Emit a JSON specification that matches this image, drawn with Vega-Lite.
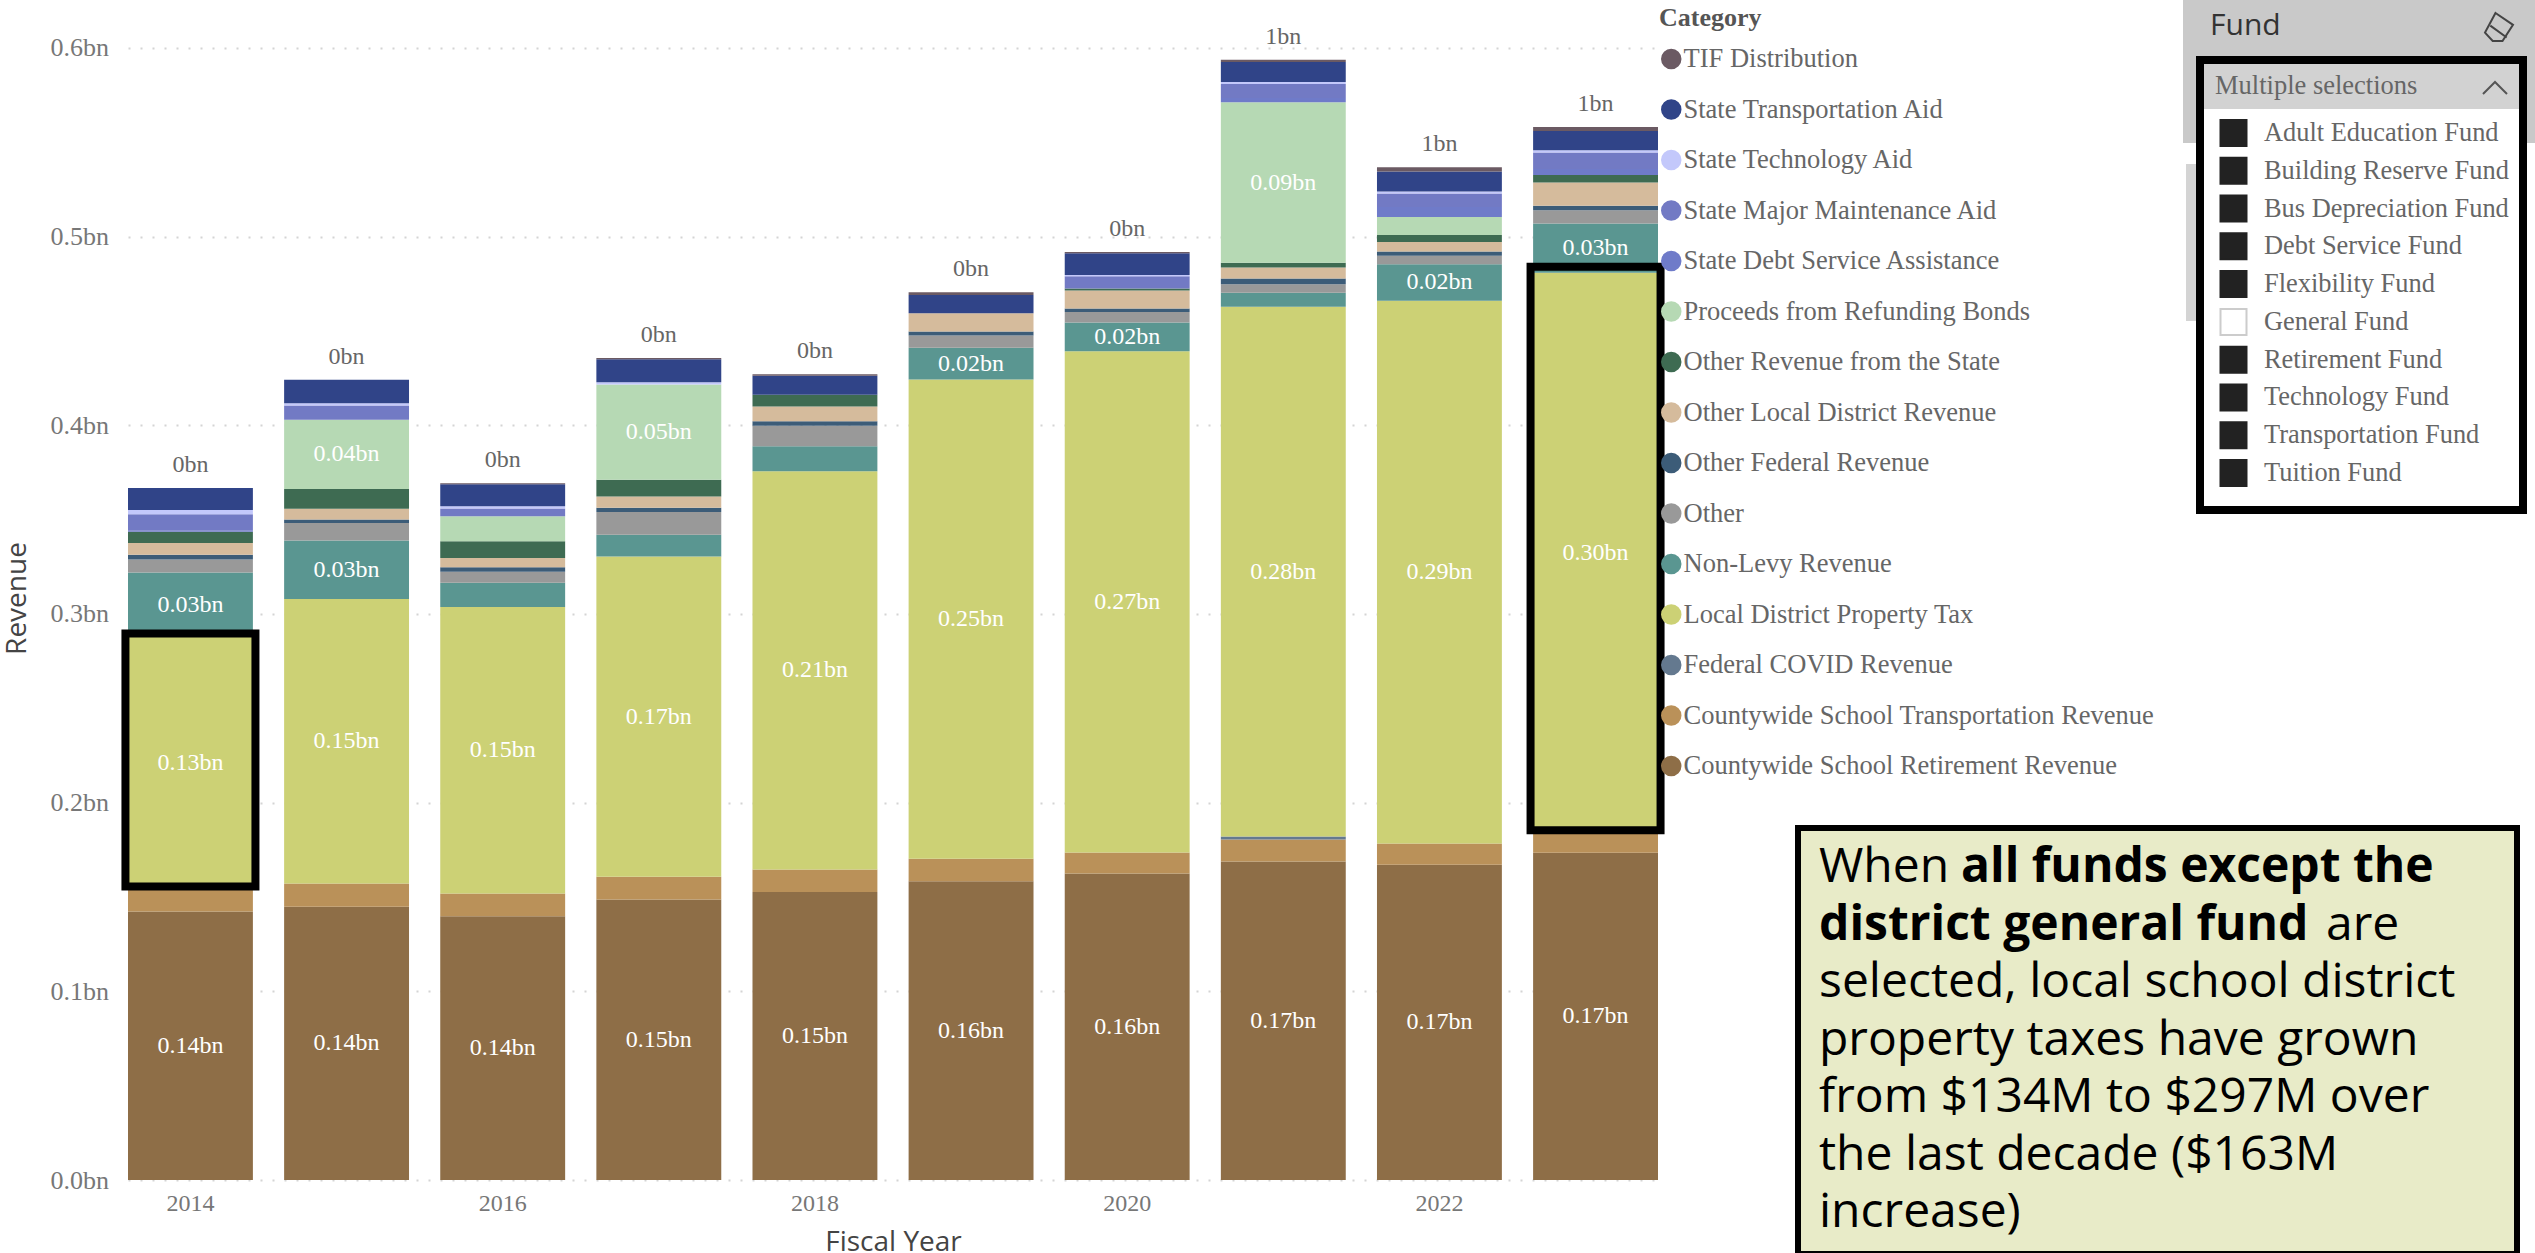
{
"$schema":"https://vega.github.io/schema/vega-lite/v6.json",
"background":"white",
"padding":{"left":3,"top":0,"right":0,"bottom":0},
"bounds":"flush",
"spacing":140,
"config":{"view":{"stroke":null},"font":"Liberation Serif"},
"hconcat":[
{
 "width":1530,"height":1180,
 "data":{"values":[
 {"Year":2014,"Category":"Countywide School Retirement Revenue","Revenue":0.1423,"labelled":true},
 {"Year":2014,"Category":"Countywide School Transportation Revenue","Revenue":0.0117},
 {"Year":2014,"Category":"Local District Property Tax","Revenue":0.134,"labelled":true},
 {"Year":2014,"Category":"Non-Levy Revenue","Revenue":0.034,"labelled":true},
 {"Year":2014,"Category":"Other","Revenue":0.0069},
 {"Year":2014,"Category":"Other Federal Revenue","Revenue":0.0025},
 {"Year":2014,"Category":"Other Local District Revenue","Revenue":0.0062},
 {"Year":2014,"Category":"Other Revenue from the State","Revenue":0.006},
 {"Year":2014,"Category":"State Debt Service Assistance","Revenue":0.0005},
 {"Year":2014,"Category":"State Major Maintenance Aid","Revenue":0.0087},
 {"Year":2014,"Category":"State Technology Aid","Revenue":0.0023},
 {"Year":2014,"Category":"State Transportation Aid","Revenue":0.0117},

 {"Year":2015,"Category":"Countywide School Retirement Revenue","Revenue":0.1448,"labelled":true},
 {"Year":2015,"Category":"Countywide School Transportation Revenue","Revenue":0.0124},
 {"Year":2015,"Category":"Local District Property Tax","Revenue":0.1507,"labelled":true},
 {"Year":2015,"Category":"Non-Levy Revenue","Revenue":0.0311,"labelled":true},
 {"Year":2015,"Category":"Other","Revenue":0.0092},
 {"Year":2015,"Category":"Other Federal Revenue","Revenue":0.0019},
 {"Year":2015,"Category":"Other Local District Revenue","Revenue":0.0057},
 {"Year":2015,"Category":"Other Revenue from the State","Revenue":0.0104},
 {"Year":2015,"Category":"Proceeds from Refunding Bonds","Revenue":0.0367,"labelled":true},
 {"Year":2015,"Category":"State Major Maintenance Aid","Revenue":0.0076},
 {"Year":2015,"Category":"State Technology Aid","Revenue":0.0012},
 {"Year":2015,"Category":"State Transportation Aid","Revenue":0.0124},

 {"Year":2016,"Category":"Countywide School Retirement Revenue","Revenue":0.1398,"labelled":true},
 {"Year":2016,"Category":"Countywide School Transportation Revenue","Revenue":0.0121},
 {"Year":2016,"Category":"Local District Property Tax","Revenue":0.1518,"labelled":true},
 {"Year":2016,"Category":"Non-Levy Revenue","Revenue":0.0129},
 {"Year":2016,"Category":"Other","Revenue":0.0058},
 {"Year":2016,"Category":"Other Federal Revenue","Revenue":0.0023},
 {"Year":2016,"Category":"Other Local District Revenue","Revenue":0.0049},
 {"Year":2016,"Category":"Other Revenue from the State","Revenue":0.009},
 {"Year":2016,"Category":"Proceeds from Refunding Bonds","Revenue":0.0132},
 {"Year":2016,"Category":"State Major Maintenance Aid","Revenue":0.0041},
 {"Year":2016,"Category":"State Technology Aid","Revenue":0.0012},
 {"Year":2016,"Category":"State Transportation Aid","Revenue":0.0117},
 {"Year":2016,"Category":"TIF Distribution","Revenue":0.0005},

 {"Year":2017,"Category":"Countywide School Retirement Revenue","Revenue":0.1487,"labelled":true},
 {"Year":2017,"Category":"Countywide School Transportation Revenue","Revenue":0.012},
 {"Year":2017,"Category":"Local District Property Tax","Revenue":0.1698,"labelled":true},
 {"Year":2017,"Category":"Non-Levy Revenue","Revenue":0.0115},
 {"Year":2017,"Category":"Other","Revenue":0.012},
 {"Year":2017,"Category":"Other Federal Revenue","Revenue":0.0023},
 {"Year":2017,"Category":"Other Local District Revenue","Revenue":0.006},
 {"Year":2017,"Category":"Other Revenue from the State","Revenue":0.0088},
 {"Year":2017,"Category":"Proceeds from Refunding Bonds","Revenue":0.0505,"labelled":true},
 {"Year":2017,"Category":"State Technology Aid","Revenue":0.0012},
 {"Year":2017,"Category":"State Transportation Aid","Revenue":0.0122},
 {"Year":2017,"Category":"TIF Distribution","Revenue":0.0007},

 {"Year":2018,"Category":"Countywide School Retirement Revenue","Revenue":0.1526,"labelled":true},
 {"Year":2018,"Category":"Countywide School Transportation Revenue","Revenue":0.012},
 {"Year":2018,"Category":"Local District Property Tax","Revenue":0.2111,"labelled":true},
 {"Year":2018,"Category":"Non-Levy Revenue","Revenue":0.0132},
 {"Year":2018,"Category":"Other","Revenue":0.0108},
 {"Year":2018,"Category":"Other Federal Revenue","Revenue":0.0025},
 {"Year":2018,"Category":"Other Local District Revenue","Revenue":0.0078},
 {"Year":2018,"Category":"Other Revenue from the State","Revenue":0.0062},
 {"Year":2018,"Category":"State Transportation Aid","Revenue":0.0101},
 {"Year":2018,"Category":"TIF Distribution","Revenue":0.0007},

 {"Year":2019,"Category":"Countywide School Retirement Revenue","Revenue":0.1584,"labelled":true},
 {"Year":2019,"Category":"Countywide School Transportation Revenue","Revenue":0.0119},
 {"Year":2019,"Category":"Local District Property Tax","Revenue":0.254,"labelled":true},
 {"Year":2019,"Category":"Non-Levy Revenue","Revenue":0.0168,"labelled":true},
 {"Year":2019,"Category":"Other","Revenue":0.0065},
 {"Year":2019,"Category":"Other Federal Revenue","Revenue":0.0021},
 {"Year":2019,"Category":"Other Local District Revenue","Revenue":0.0097},
 {"Year":2019,"Category":"State Transportation Aid","Revenue":0.0097},
 {"Year":2019,"Category":"TIF Distribution","Revenue":0.0014},

 {"Year":2020,"Category":"Countywide School Retirement Revenue","Revenue":0.1625,"labelled":true},
 {"Year":2020,"Category":"Countywide School Transportation Revenue","Revenue":0.0111},
 {"Year":2020,"Category":"Local District Property Tax","Revenue":0.2657,"labelled":true},
 {"Year":2020,"Category":"Non-Levy Revenue","Revenue":0.0152,"labelled":true},
 {"Year":2020,"Category":"Other","Revenue":0.0056},
 {"Year":2020,"Category":"Other Federal Revenue","Revenue":0.0018},
 {"Year":2020,"Category":"Other Local District Revenue","Revenue":0.0095},
 {"Year":2020,"Category":"Other Revenue from the State","Revenue":0.0011},
 {"Year":2020,"Category":"State Major Maintenance Aid","Revenue":0.0065},
 {"Year":2020,"Category":"State Technology Aid","Revenue":0.0007},
 {"Year":2020,"Category":"State Transportation Aid","Revenue":0.0115},
 {"Year":2020,"Category":"TIF Distribution","Revenue":0.0007},

 {"Year":2021,"Category":"Countywide School Retirement Revenue","Revenue":0.1688,"labelled":true},
 {"Year":2021,"Category":"Countywide School Transportation Revenue","Revenue":0.0117},
 {"Year":2021,"Category":"Federal COVID Revenue","Revenue":0.0015},
 {"Year":2021,"Category":"Local District Property Tax","Revenue":0.2808,"labelled":true},
 {"Year":2021,"Category":"Non-Levy Revenue","Revenue":0.0074},
 {"Year":2021,"Category":"Other","Revenue":0.0046},
 {"Year":2021,"Category":"Other Federal Revenue","Revenue":0.003},
 {"Year":2021,"Category":"Other Local District Revenue","Revenue":0.0058},
 {"Year":2021,"Category":"Other Revenue from the State","Revenue":0.0025},
 {"Year":2021,"Category":"Proceeds from Refunding Bonds","Revenue":0.0851,"labelled":true},
 {"Year":2021,"Category":"State Debt Service Assistance","Revenue":0.0023},
 {"Year":2021,"Category":"State Major Maintenance Aid","Revenue":0.0074},
 {"Year":2021,"Category":"State Technology Aid","Revenue":0.0011},
 {"Year":2021,"Category":"State Transportation Aid","Revenue":0.0106},
 {"Year":2021,"Category":"TIF Distribution","Revenue":0.0011},

 {"Year":2022,"Category":"Countywide School Retirement Revenue","Revenue":0.1671,"labelled":true},
 {"Year":2022,"Category":"Countywide School Transportation Revenue","Revenue":0.0113},
 {"Year":2022,"Category":"Local District Property Tax","Revenue":0.2876,"labelled":true},
 {"Year":2022,"Category":"Non-Levy Revenue","Revenue":0.0194,"labelled":true},
 {"Year":2022,"Category":"Other","Revenue":0.0044},
 {"Year":2022,"Category":"Other Federal Revenue","Revenue":0.0023},
 {"Year":2022,"Category":"Other Local District Revenue","Revenue":0.0051},
 {"Year":2022,"Category":"Other Revenue from the State","Revenue":0.0037},
 {"Year":2022,"Category":"Proceeds from Refunding Bonds","Revenue":0.0095},
 {"Year":2022,"Category":"State Debt Service Assistance","Revenue":0.0053},
 {"Year":2022,"Category":"State Major Maintenance Aid","Revenue":0.0071},
 {"Year":2022,"Category":"State Technology Aid","Revenue":0.0011},
 {"Year":2022,"Category":"State Transportation Aid","Revenue":0.0106},
 {"Year":2022,"Category":"TIF Distribution","Revenue":0.0023},

 {"Year":2023,"Category":"Countywide School Retirement Revenue","Revenue":0.1735,"labelled":true},
 {"Year":2023,"Category":"Countywide School Transportation Revenue","Revenue":0.0103},
 {"Year":2023,"Category":"Local District Property Tax","Revenue":0.297,"labelled":true},
 {"Year":2023,"Category":"Non-Levy Revenue","Revenue":0.0261,"labelled":true},
 {"Year":2023,"Category":"Other","Revenue":0.0071},
 {"Year":2023,"Category":"Other Federal Revenue","Revenue":0.0023},
 {"Year":2023,"Category":"Other Local District Revenue","Revenue":0.0124},
 {"Year":2023,"Category":"Other Revenue from the State","Revenue":0.0039},
 {"Year":2023,"Category":"State Debt Service Assistance","Revenue":0.0032},
 {"Year":2023,"Category":"State Major Maintenance Aid","Revenue":0.0088},
 {"Year":2023,"Category":"State Technology Aid","Revenue":0.0012},
 {"Year":2023,"Category":"State Transportation Aid","Revenue":0.0102},
 {"Year":2023,"Category":"TIF Distribution","Revenue":0.0021}
 ]},
 "transform":[
  {"stack":"Revenue","groupby":["Year"],"sort":[{"field":"Category","order":"ascending"}],"as":["y0","y1"]},
  {"calculate":"(datum.y0+datum.y1)/2","as":"mid"},
  {"calculate":"format(datum.Revenue,'.2f')+'bn'","as":"valueLabel"}
 ],
 "encoding":{
  "x":{"field":"Year","type":"ordinal","title":"Fiscal Year",
   "scale":{"paddingInner":0.2,"paddingOuter":0},
   "axis":{"labelExpr":"datum.value % 2 === 0 ? datum.label : ''","labelAngle":0,"domain":false,"ticks":false,"grid":false,
    "labelOverlap":false,"labelBound":false,"labelFlush":false,
    "labelFont":"Liberation Serif","labelFontSize":24,"labelColor":"#777777","labelPadding":11,
    "titleFont":"Open Sans","titleFontSize":28,"titleFontWeight":"normal","titleColor":"#444444","titlePadding":13}}
 },
 "layer":[
  {"mark":{"type":"bar"},
   "encoding":{
    "y":{"field":"y1","type":"quantitative","title":"Revenue",
     "scale":{"domain":[0,0.6254],"nice":false,"zero":false},
     "axis":{"values":[0,0.1,0.2,0.3,0.4,0.5,0.6],"labelExpr":"format(datum.value,'.1f')+'bn'",
      "domain":false,"ticks":false,"grid":true,"gridColor":"#d4d4d4","gridWidth":2,"gridDash":[2,10],
      "labelFont":"Liberation Serif","labelFontSize":26,"labelColor":"#777777","labelPadding":19.5,
      "titleFont":"Open Sans","titleFontSize":28,"titleFontWeight":"normal","titleColor":"#444444","titlePadding":18.5,"titleY":598}},
    "y2":{"field":"y0"},
    "color":{"field":"Category","type":"nominal",
     "scale":{
      "domain":["TIF Distribution","State Transportation Aid","State Technology Aid","State Major Maintenance Aid","State Debt Service Assistance","Proceeds from Refunding Bonds","Other Revenue from the State","Other Local District Revenue","Other Federal Revenue","Other","Non-Levy Revenue","Local District Property Tax","Federal COVID Revenue","Countywide School Transportation Revenue","Countywide School Retirement Revenue"],
      "range":["#6b5a63","#304488","#c3c8fb","#727ac4","#6f7bc9","#b6d9b4","#3e6b52","#d5bb9c","#3c5c78","#999999","#5a9691","#ccd175","#64798f","#ba9159","#8e6e47"]},
     "legend":{"orient":"none","legendX":1531,"legendY":5,"padding":0,"title":"Category",
      "titleFont":"Liberation Serif","titleFontSize":26,"titleFontWeight":"bold","titleColor":"#555555","titlePadding":15,
      "labelFont":"Liberation Serif","labelFontSize":26.5,"labelColor":"#666666","labelOffset":-1,"labelLimit":600,
      "symbolType":"circle","symbolSize":420,"symbolStrokeWidth":0,"symbolOpacity":1,"rowPadding":23.5,"symbolOffset":-1,"clipHeight":26}}
   }},
  {"transform":[{"filter":"datum.labelled"}],
   "mark":{"type":"text","font":"Liberation Serif","fontSize":24,"color":"#ffffff","baseline":"middle"},
   "encoding":{"y":{"field":"mid","type":"quantitative"},"text":{"field":"valueLabel"}}},
  {"transform":[{"aggregate":[{"op":"sum","field":"Revenue","as":"total"}],"groupby":["Year"]},
    {"calculate":"format(datum.total,'.0f')+'bn'","as":"totalLabel"}],
   "mark":{"type":"text","font":"Liberation Serif","fontSize":24,"color":"#666666","baseline":"middle","dy":-23},
   "encoding":{"y":{"field":"total","type":"quantitative"},"text":{"field":"totalLabel"}}},
  {"transform":[{"filter":"datum.Category==='Local District Property Tax' && datum.Year===2014"}],
   "mark":{"type":"bar","filled":false,"stroke":"#000000","strokeWidth":8,"size":130,"yOffset":-3,"y2Offset":-3},
   "encoding":{"y":{"field":"y1","type":"quantitative"},"y2":{"field":"y0"}}},
  {"transform":[{"filter":"datum.Category==='Local District Property Tax' && datum.Year===2023"}],
   "mark":{"type":"bar","filled":false,"stroke":"#000000","strokeWidth":8,"size":130,"yOffset":-6,"y2Offset":-3},
   "encoding":{"y":{"field":"y1","type":"quantitative"},"y2":{"field":"y0"}}}
 ]
},
{
 "bounds":"flush",
 "spacing":828,
 "vconcat":[
  {
   "bounds":"flush",
   "spacing":0,
   "hconcat":[
    {"width":385,"height":520,"data":{"values":[{}]},"mark":{"type":"rect","opacity":0},"encoding":{}},
    {
     "width":352,"height":520,
     "resolve":{"scale":{"y":"independent"}},
     "layer":[
      {
       "data":{"values":[{}]},
       "encoding":{
        "x":{"datum":0,"type":"quantitative","scale":{"domain":[0,352],"nice":false,"zero":false},"axis":null},
        "y":{"datum":0,"type":"quantitative","scale":{"domain":[520,0],"nice":false,"zero":false},"axis":null}
       },
       "layer":[
        {"mark":{"type":"rect","fill":"#c9c9c9"},
         "encoding":{"x":{"datum":0,"type":"quantitative"},"x2":{"datum":352},"y":{"datum":0,"type":"quantitative"},"y2":{"datum":143}}},
        {"mark":{"type":"rect","fill":"#d4d4d4"},
         "encoding":{"x":{"datum":3,"type":"quantitative"},"x2":{"datum":20},"y":{"datum":164,"type":"quantitative"},"y2":{"datum":321}}},
        {"mark":{"type":"rect","fill":"#ffffff","stroke":"#000000","strokeWidth":8},
         "encoding":{"x":{"datum":17,"type":"quantitative"},"x2":{"datum":340},"y":{"datum":60,"type":"quantitative"},"y2":{"datum":510}}},
        {"mark":{"type":"rect","fill":"#d2d2d2"},
         "encoding":{"x":{"datum":21,"type":"quantitative"},"x2":{"datum":336},"y":{"datum":64,"type":"quantitative"},"y2":{"datum":109}}},
        {"mark":{"type":"text","text":"Fund","font":"Open Sans","fontSize":30,"color":"#333333","align":"left","baseline":"middle"},
         "encoding":{"x":{"datum":27,"type":"quantitative"},"y":{"datum":26,"type":"quantitative"}}},
        {"mark":{"type":"text","text":"Multiple selections","font":"Liberation Serif","fontSize":26.5,"color":"#666666","align":"left","baseline":"middle"},
         "encoding":{"x":{"datum":32,"type":"quantitative"},"y":{"datum":86,"type":"quantitative"}}},
        {"mark":{"type":"point","shape":"M -1 0.5 L 0 -0.5 L 1 0.5","size":576,"filled":false,"stroke":"#555555","strokeWidth":2,"opacity":1},
         "encoding":{"x":{"datum":312,"type":"quantitative"},"y":{"datum":88,"type":"quantitative"}}},
        {"mark":{"type":"point","shape":"M -0.25 -1 L 1 -0.15 L 0.25 1 L -0.45 1 L -1 0.4 Z M -0.62 -0.1 L 0.55 0.75","size":784,"filled":false,"stroke":"#444444","strokeWidth":2,"opacity":1},
         "encoding":{"x":{"datum":316,"type":"quantitative"},"y":{"datum":27,"type":"quantitative"}}}
       ]
      },
      {
       "data":{"values":[
        {"Fund":"Adult Education Fund","Selected":true},
        {"Fund":"Building Reserve Fund","Selected":true},
        {"Fund":"Bus Depreciation Fund","Selected":true},
        {"Fund":"Debt Service Fund","Selected":true},
        {"Fund":"Flexibility Fund","Selected":true},
        {"Fund":"General Fund","Selected":false},
        {"Fund":"Retirement Fund","Selected":true},
        {"Fund":"Technology Fund","Selected":true},
        {"Fund":"Transportation Fund","Selected":true},
        {"Fund":"Tuition Fund","Selected":true}
       ]},
       "encoding":{
        "y":{"field":"Fund","type":"nominal","sort":null,"axis":null,"scale":{"type":"point","range":[133,473],"padding":0}}
       },
       "layer":[
        {"mark":{"type":"point","shape":"square","size":676,"filled":true,"opacity":1},
         "encoding":{
          "x":{"datum":50.5,"type":"quantitative"},
          "fill":{"condition":{"test":"datum.Selected","value":"#222222"},"value":"#ffffff"},
          "stroke":{"condition":{"test":"datum.Selected","value":"#222222"},"value":"#cccccc"}
         }},
        {"mark":{"type":"text","font":"Liberation Serif","fontSize":26.4,"color":"#666666","align":"left","baseline":"middle"},
         "encoding":{"x":{"datum":81,"type":"quantitative"},"text":{"field":"Fund"}}}
       ]
      }
     ]
    }
   ]
  },
  {
   "width":719,"height":426,
   "view":{"fill":"#e8ebc8","stroke":"#000000","strokeWidth":6},
   "encoding":{
    "y":{"field":"line","type":"ordinal","axis":null,"sort":null,"scale":{"type":"point","domain":[1,2,3,4,5,6,7],"range":[54,399],"padding":0}}
   },
   "layer":[
    {"data":{"values":[
      {"line":1,"text":"When"},
      {"line":3,"text":"selected, local school district"},
      {"line":4,"text":"property taxes have grown"},
      {"line":5,"text":"from $134M to $297M over"},
      {"line":6,"text":"the last decade ($163M"},
      {"line":7,"text":"increase)"}]},
     "mark":{"type":"text","font":"Open Sans","fontSize":48,"color":"#000000","align":"left","baseline":"alphabetic"},
     "encoding":{"x":{"datum":21,"type":"quantitative","scale":{"domain":[0,719],"nice":false,"zero":false},"axis":null},"text":{"field":"text"}}},
    {"data":{"values":[{"line":1,"text":"all funds except the"}]},
     "mark":{"type":"text","font":"Open Sans","fontSize":48,"fontWeight":"bold","color":"#000000","align":"left","baseline":"alphabetic"},
     "encoding":{"x":{"datum":163,"type":"quantitative"},"text":{"field":"text"}}},
    {"data":{"values":[{"line":2,"text":"district general fund"}]},
     "mark":{"type":"text","font":"Open Sans","fontSize":48,"fontWeight":"bold","color":"#000000","align":"left","baseline":"alphabetic"},
     "encoding":{"x":{"datum":21,"type":"quantitative"},"text":{"field":"text"}}},
    {"data":{"values":[{"line":2,"text":"are"}]},
     "mark":{"type":"text","font":"Open Sans","fontSize":48,"color":"#000000","align":"left","baseline":"alphabetic"},
     "encoding":{"x":{"datum":528,"type":"quantitative"},"text":{"field":"text"}}}
   ]
  }
 ]
}
]
}
